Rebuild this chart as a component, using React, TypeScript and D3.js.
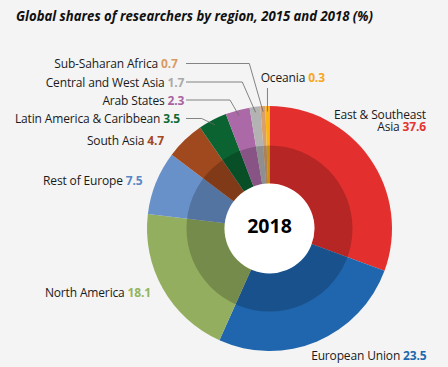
import React from "react";
import * as d3 from "d3";

// ---- data ----
const regions = [
  "East & Southeast Asia",
  "European Union",
  "North America",
  "Rest of Europe",
  "South Asia",
  "Latin America & Caribbean",
  "Arab States",
  "Central and West Asia",
  "Sub-Saharan Africa",
  "Oceania",
];
// shares printed in the labels (2018, %)
const shares2018 = [37.6, 23.5, 18.1, 7.5, 4.7, 3.5, 2.3, 1.7, 0.7, 0.3];
// slice sizes as drawn in the reference graphic (% of the full circle)
const sliceShares = [30.6, 26.1, 20.2, 8.4, 5.1, 3.8, 3.2, 1.4, 0.65, 0.55];
const centerLabel = "2018";
const title = "Global shares of researchers by region, 2015 and 2018 (%)";

// ---- styles ----
const sliceColors = [
  "#e3302e", "#1f66ae", "#93ae5e", "#6890c9", "#a0491f",
  "#0b6331", "#ab6aa7", "#b3b3b3", "#d9a06d", "#f9b418",
];
const valueColors = [
  "#e43331", "#2068ad", "#93b45c", "#5b87c5", "#a3471c",
  "#0e6b35", "#a763a1", "#a9a9a9", "#d99b63", "#f6a623",
];

// label layout (index-aligned with regions)
type LabelLayout = {
  x: number; y: number; anchor: "start" | "end";
  lines?: string[];
  leader?: { startX: number; elbowX: number } | { vertical: true; topY: number };
};
const labelLayout: LabelLayout[] = [
  { x: 426, y: 118.5, anchor: "end", lines: ["East & Southeast", "Asia"] },
  { x: 426.5, y: 359.5, anchor: "end" },
  { x: 151, y: 297, anchor: "end" },
  { x: 142.5, y: 184.5, anchor: "end" },
  { x: 164, y: 144.5, anchor: "end" },
  { x: 180, y: 123, anchor: "end", leader: { startX: 186, elbowX: 201.7 } },
  { x: 184.3, y: 104.5, anchor: "end", leader: { startX: 186, elbowX: 230 } },
  { x: 184.3, y: 86.5, anchor: "end", leader: { startX: 186, elbowX: 242.3 } },
  { x: 177.7, y: 68, anchor: "end", leader: { startX: 186, elbowX: 249.3 } },
  { x: 260.7, y: 82, anchor: "start", leader: { vertical: true, topY: 88 } },
];

const W = 448;
const H = 367;
const cx = 269.5;
const cy = 228.5;
const R = 122.5;
const rDark = 83;
const rWhite = 45;
const leaderR = 117;
const FONT = "'Open Sans', 'Noto Sans', sans-serif";
const LABEL_SIZE = 12;
const LABEL_SPACING = -0.15;

export default function App() {
  const pie = d3
    .pie<number>()
    .sort(null)
    .value((d) => d)
    .startAngle(0)
    .endAngle(Math.PI * 2);
  const arcs = pie(sliceShares);
  const arc = d3.arc<d3.PieArcDatum<number>>().innerRadius(0).outerRadius(R);
  const ring = d3.arc<any>()({
    innerRadius: rWhite,
    outerRadius: rDark,
    startAngle: 0,
    endAngle: Math.PI * 2,
  }) as string;

  const polar = (a: number, r: number) => [cx + Math.sin(a) * r, cy - Math.cos(a) * r];

  return (
    <div style={{ position: "fixed", left: 0, top: 0, width: W, height: H }}>
      <svg width={W} height={H} viewBox={`0 0 ${W} ${H}`} style={{ display: "block" }}>
        <rect width={W} height={H} fill="#f4f4f4" />
        <text
          x={16}
          y={20.5}
          fontFamily={FONT}
          fontWeight={700}
          fontStyle="italic"
          fontSize={13.5}
          fill="#111"
          textLength={357}
          lengthAdjust="spacingAndGlyphs"
        >
          {title}
        </text>
        <g transform={`translate(${cx},${cy})`}>
          {arcs.map((a, i) => (
            <path key={i} d={arc(a) as string} fill={sliceColors[i]} />
          ))}
          <path d={ring} fill="#000" fillOpacity={0.2} />
          <circle r={rWhite} fill="#fff" />
          <text
            y={4.8}
            textAnchor="middle"
            fontFamily={FONT}
            fontWeight={700}
            fontSize={19.5}
            fill="#000"
          >
            {centerLabel}
          </text>
        </g>
        {arcs.map((a, i) => {
          const L = labelLayout[i];
          if (!L.leader) return null;
          const mid = (a.startAngle + a.endAngle) / 2;
          const [ex, ey] = polar(mid, leaderR);
          if ("vertical" in L.leader) {
            return (
              <line key={"l" + i} x1={ex} y1={L.leader.topY} x2={ex} y2={ey} stroke="#666" strokeWidth={0.8} />
            );
          }
          const yl = L.y - 4.5;
          return (
            <polyline
              key={"l" + i}
              points={`${L.leader.startX},${yl} ${L.leader.elbowX},${yl} ${ex},${ey}`}
              fill="none"
              stroke="#666"
              strokeWidth={0.8}
            />
          );
        })}
        {regions.map((name, i) => {
          const L = labelLayout[i];
          const val = shares2018[i].toFixed(1);
          if (L.lines) {
            return (
              <text
                key={"t" + i}
                textAnchor={L.anchor}
                fontFamily={FONT}
                fontSize={LABEL_SIZE}
                letterSpacing={LABEL_SPACING}
                fill="#1a1a1a"
              >
                <tspan x={L.x} y={L.y}>{L.lines[0]}</tspan>
                <tspan x={L.x} y={L.y + 12.7}>
                  {L.lines[1] + " "}
                  <tspan fontWeight={700} fill={valueColors[i]}>{val}</tspan>
                </tspan>
              </text>
            );
          }
          return (
            <text
              key={"t" + i}
              x={L.x}
              y={L.y}
              textAnchor={L.anchor}
              fontFamily={FONT}
              fontSize={LABEL_SIZE}
              letterSpacing={LABEL_SPACING}
              fill="#1a1a1a"
            >
              {name + " "}
              <tspan fontWeight={700} fill={valueColors[i]}>{val}</tspan>
            </text>
          );
        })}
      </svg>
    </div>
  );
}
